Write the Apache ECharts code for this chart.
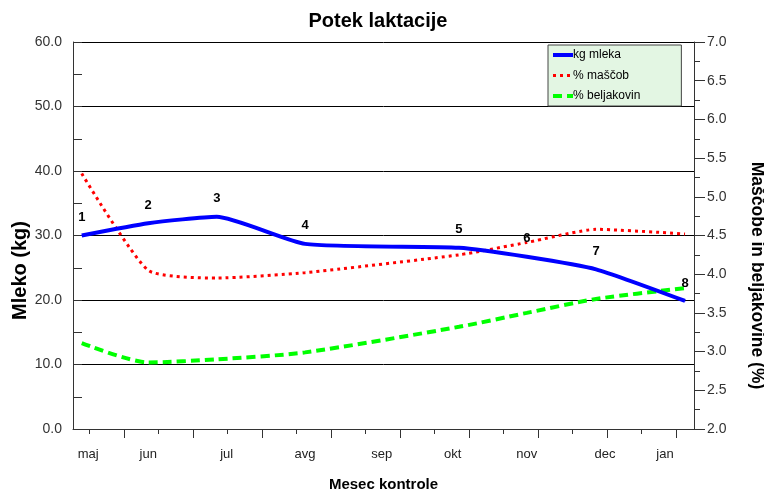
<!DOCTYPE html>
<html>
<head>
<meta charset="utf-8">
<script src="https://cdn.jsdelivr.net/npm/echarts@6.0.0/dist/echarts.min.js"></script>
<style>
html,body{margin:0;padding:0;background:#fff;}
#chart{width:764px;height:496px;}
</style>
</head>
<body>
<div id="chart"></div>
<script>
// ---- data ----
var months = ['maj','jun','jul','avg','sep','okt','nov','dec','jan'];
var monthPos = [6.6, 32.7, 66.8, 100.9, 134.2, 165.1, 197.3, 231.3, 257.4];
var majorTicks = [22.3, 52.3, 82.3, 112.3, 142.3, 172.3, 202.3, 232.3, 262.3];
var minorTicks = [7.2, 37.2, 67.2, 97.2, 127.2, 157.2, 187.2, 217.2, 247.2];
var controlX = [3.8, 32.7, 62.5, 100.9, 167.8, 197.3, 227.4, 266.1];
var pointLabels = ['1','2','3','4','5','6','7','8'];
var milk = [30.0, 31.9, 32.9, 28.7, 28.1, 26.7, 24.75, 19.85];
var fat = [5.30, 4.05, 3.95, 4.02, 4.25, 4.41, 4.58, 4.52];
var protein = [3.11, 2.86, 2.90, 2.99, 3.32, 3.50, 3.68, 3.82];
var leftScale = [0, 60, 10];
var rightScale = [2, 7, 0.5];

function pairs(xs, ys){ return xs.map(function(x,i){ return [x, ys[i]]; }); }

var font = 'Liberation Sans, Arial, sans-serif';
var chart = echarts.init(document.getElementById('chart'), null, {renderer:'canvas'});
chart.setOption({
  animation: false,
  backgroundColor: '#fff',
  title: {
    text: 'Potek laktacije',
    left: 378, top: 11, textAlign: 'center', padding: 0,
    textStyle: {fontFamily: font, fontSize: 20, fontWeight: 'bold', color: '#000'}
  },
  legend: {
    orient: 'vertical',
    left: 548, top: 45,
    padding: [4, 41, 4, 3],
    itemWidth: 20, itemHeight: 14, itemGap: 8.5,
    backgroundColor: '#e3f6e3',
    borderColor: '#444', borderWidth: 1, borderRadius: 0,
    itemStyle: {opacity: 0},
    textStyle: {fontFamily: font, fontSize: 12, color: '#000', padding: [0, 0, 0, -5]},
    data: [
      {name: 'kg mleka', lineStyle: {width: 4}},
      {name: '% maščob', lineStyle: {width: 3}},
      {name: '% beljakovin', lineStyle: {width: 4}}
    ]
  },
  grid: {left: 73, right: 70, top: 42, bottom: 67, containLabel: false, outerBoundsMode: 'none'},
  xAxis: [{
    type: 'value', min: 0, max: 270, position: 'bottom',
    name: 'Mesec kontrole', nameLocation: 'middle', nameGap: 48, nameMoveOverlap: false,
    nameTextStyle: {fontFamily: font, fontSize: 15, fontWeight: 'bold', color: '#000'},
    axisLine: {show: true, onZero: false, lineStyle: {color: '#333', width: 1}},
    axisTick: {show: true, customValues: majorTicks, length: 9, lineStyle: {color: '#333'}},
    axisLabel: {
      show: true, customValues: monthPos, margin: 19,
      fontFamily: font, fontSize: 13, color: '#222',
      formatter: function(v){ var i = monthPos.indexOf(v); return i >= 0 ? months[i] : ''; }
    },
    splitLine: {show: false}
  }, {
    type: 'value', min: 0, max: 270, position: 'bottom', offset: 0,
    axisLine: {show: false, onZero: false},
    axisTick: {show: true, customValues: minorTicks, length: 5, lineStyle: {color: '#333'}},
    axisLabel: {show: false},
    splitLine: {show: false}
  }],
  yAxis: [{
    type: 'value', min: leftScale[0], max: leftScale[1], interval: leftScale[2],
    position: 'left',
    name: 'Mleko (kg)', nameLocation: 'middle', nameGap: 43, nameRotate: 90, nameMoveOverlap: false,
    nameTextStyle: {fontFamily: font, fontSize: 20, fontWeight: 'bold', color: '#000', padding: [0, 70, 0, 0]},
    axisLine: {show: true, onZero: false, lineStyle: {color: '#333', width: 1}},
    axisTick: {show: true, inside: true, length: 9, lineStyle: {color: '#333'}},
    minorTick: {show: true, splitNumber: 2, length: 9, lineStyle: {color: '#333'}},
    axisLabel: {margin: 11, fontFamily: font, fontSize: 14, color: '#333',
      formatter: function(v){ return v.toFixed(1); }},
    splitLine: {show: true, lineStyle: {color: '#000', width: 1}},
    minorSplitLine: {show: false}
  }, {
    type: 'value', min: rightScale[0], max: rightScale[1], interval: rightScale[2],
    position: 'right',
    name: 'Maščobe in beljakovine (%)', nameLocation: 'middle', nameGap: 54, nameRotate: -90, nameMoveOverlap: false,
    nameTextStyle: {fontFamily: font, fontSize: 17.5, fontWeight: 'bold', color: '#000', padding: [0, 0, 0, 80]},
    axisLine: {show: true, onZero: false, lineStyle: {color: '#333', width: 1}},
    axisTick: {show: true, inside: false, length: 11, lineStyle: {color: '#333'}},
    minorTick: {show: true, splitNumber: 2, length: 6, lineStyle: {color: '#333'}},
    axisLabel: {margin: 13, fontFamily: font, fontSize: 14, color: '#333',
      formatter: function(v){ return v.toFixed(1); }},
    splitLine: {show: false},
    minorSplitLine: {show: false}
  }],
  series: [{
    name: 'kg mleka', type: 'line', yAxisIndex: 0, xAxisIndex: 0,
    data: pairs(controlX, milk), smooth: 0.18, symbol: 'circle', symbolSize: 1, z: 5,
    lineStyle: {color: '#0000ff', width: 4},
    itemStyle: {color: '#0000ff'},
    label: {
      show: true, position: 'top', distance: 11,
      fontFamily: font, fontSize: 13, fontWeight: 'bold', color: '#000',
      formatter: function(p){ return pointLabels[p.dataIndex]; }
    }
  }, {
    name: '% maščob', type: 'line', yAxisIndex: 1, xAxisIndex: 0,
    data: pairs(controlX, fat), smooth: 0.18, symbol: 'none', z: 4,
    lineStyle: {color: '#ff0000', width: 3, type: [3, 4]},
    itemStyle: {color: '#ff0000'}
  }, {
    name: '% beljakovin', type: 'line', yAxisIndex: 1, xAxisIndex: 0,
    data: pairs(controlX, protein), smooth: 0.25, symbol: 'none', z: 4,
    lineStyle: {color: '#00ff00', width: 4, type: [9, 5]},
    itemStyle: {color: '#00ff00'}
  }]
});
</script>
</body>
</html>
